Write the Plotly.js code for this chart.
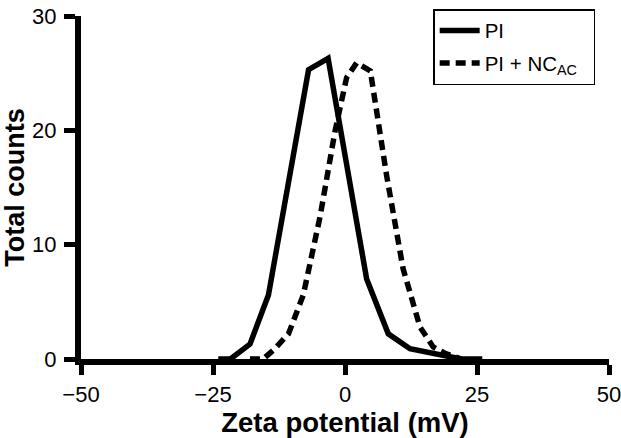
<!DOCTYPE html>
<html>
<head>
<meta charset="utf-8">
<script src="https://cdn.plot.ly/plotly-3.0.1.min.js"></script>
<style>html,body{margin:0;padding:0;background:#fff;}#chart{width:621px;height:438px;}</style>
</head>
<body>
<div id="chart"></div>
<script>
const piX = [-24, -21.7, -18, -14.5, -6.9, -3.2, 4.1, 8.2, 12.3, 18, 22, 26];
const piY = [0, 0, 1.3, 5.6, 25.3, 26.3, 7.0, 2.2, 0.9, 0.4, 0, 0];
const ncX = [-18, -15.5, -13.5, -10.7, -7.9, -4.7, -1.9, 0.3, 2.2, 4.8, 7.9, 11, 14.2, 16.7, 19.2, 22];
const ncY = [0, 0, 0.8, 2.2, 5.6, 12.5, 19.9, 24.6, 25.9, 25.2, 16, 7.9, 2.8, 1.05, 0.45, 0];
const xTicks = [-50, -25, 0, 25, 50];
const xTickText = ['\u221250', '\u221225', '0', '25', '50'];
const yTicks = [0, 10, 20, 30];

const traces = [
  {x: piX, y: piY, type: 'scatter', mode: 'lines', name: 'PI', legendgroup: 'a',
   line: {color: '#000', width: 5.5}},
  {x: ncX, y: ncY, type: 'scatter', mode: 'lines', name: 'PI + NC<sub>AC</sub>&nbsp;&nbsp;', legendgroup: 'b',
   line: {color: '#000', width: 5.5, dash: '10px,6px'}}
];

const layout = {
  width: 621, height: 438,
  margin: {l: 81, r: 12, t: 9, b: 79},
  paper_bgcolor: '#fff', plot_bgcolor: '#fff',
  font: {family: 'Liberation Sans, Arial, sans-serif', color: '#000', size: 22},
  showlegend: true,
  legend: {x: 0.667, y: 1.02, xanchor: 'left', yanchor: 'top',
    bordercolor: '#000', borderwidth: 1.5, bgcolor: '#fff',
    font: {size: 20.5, family: 'Liberation Sans, Arial, sans-serif'},
    tracegroupgap: 3, itemwidth: 40},
  xaxis: {range: [-50, 50], tickvals: xTicks, ticktext: xTickText,
    showline: true, linecolor: '#000', linewidth: 6, showgrid: false, zeroline: false,
    layer: 'above traces', ticklabeloverflow: 'allow',
    ticks: 'outside', ticklen: 10, tickwidth: 5, tickcolor: '#000',
    tickfont: {size: 22}, fixedrange: true, ticklabelstandoff: 1,
    title: {text: '<b>Zeta potential (mV)</b>', font: {size: 27.5}, standoff: 2}},
  yaxis: {range: [0, 30], tickvals: yTicks,
    showline: true, linecolor: '#000', linewidth: 6, showgrid: false, zeroline: false,
    layer: 'above traces',
    ticks: 'outside', ticklen: 11, tickwidth: 5, tickcolor: '#000',
    tickfont: {size: 22}, fixedrange: true, ticklabelstandoff: 3,
    title: {text: '<b>Total counts</b>', font: {size: 27}, standoff: 9}}
};

Plotly.newPlot('chart', traces, layout, {staticPlot: true, displayModeBar: false});
</script>
</body>
</html>
